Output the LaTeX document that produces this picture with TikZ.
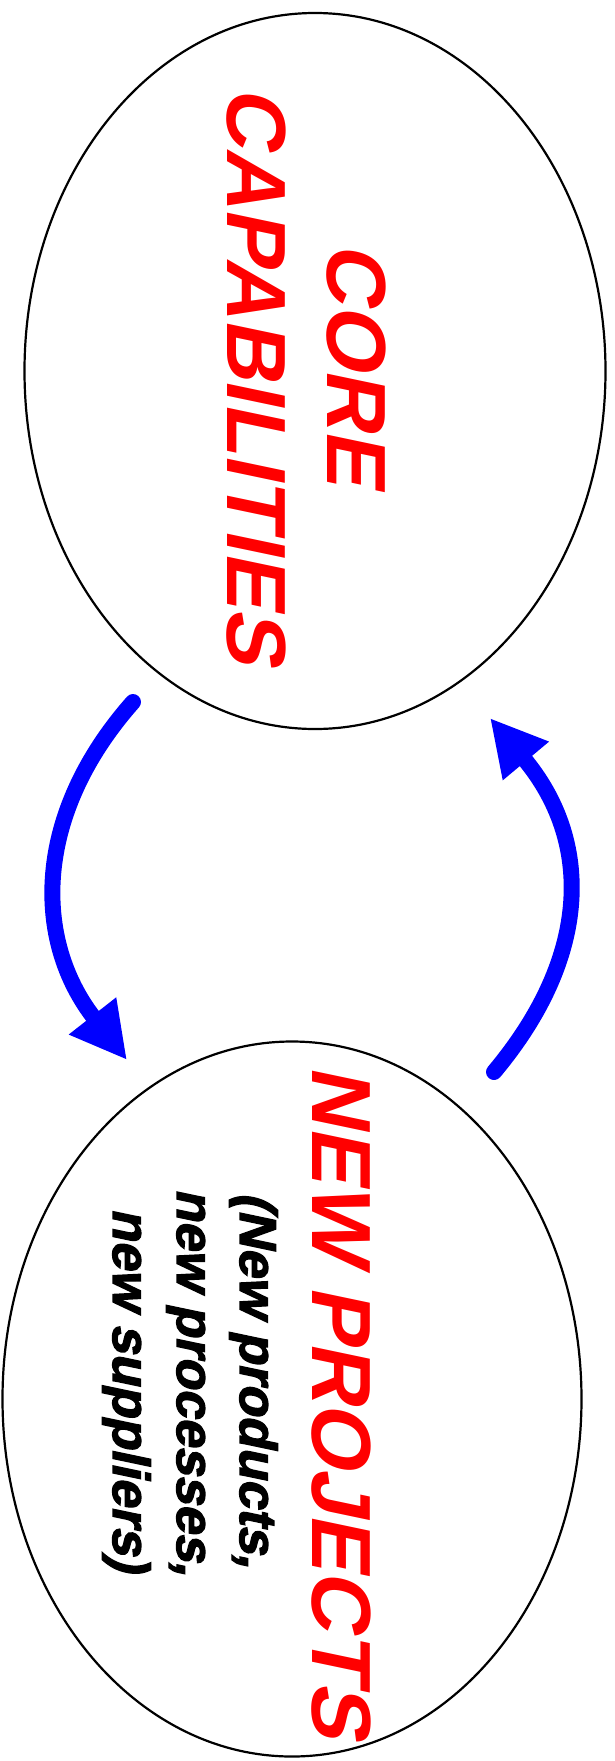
\documentclass[tikz,border=0pt]{standalone}
\usepackage{fontspec}
\setmainfont{Liberation Sans}
\newfontfamily\redfont[FakeSlant=0.21]{Liberation Sans}
\newfontfamily\blkfont[FakeSlant=0.21, BoldFeatures={FakeBold=2.5}]{Liberation Sans}
\usetikzlibrary{shapes.geometric,arrows.meta}
\tikzset{
  bubble/.style={draw=black, line width=2.2pt, ellipse, inner sep=0pt},
  redtxt/.style={rotate=-90, anchor=base, inner sep=0pt, text=red,
    font=\redfont\bfseries\fontsize{84}{84}\selectfont},
  blktxt/.style={rotate=-90, anchor=base, inner sep=0pt, text=black,
    font=\blkfont\bfseries\fontsize{52}{52}\selectfont},
  flow/.style={draw=blue, line width=16pt, line cap=round,
    -{Triangle[length=56pt,width=56pt]}}
}
\begin{document}
\begin{tikzpicture}[x=1pt,y=-1pt]
\useasboundingbox (0,0) rectangle (615,1761);
\node[bubble, minimum width=581pt, minimum height=716pt] (core) at (315,371) {};
\node[bubble, minimum width=579pt, minimum height=715pt] (proj) at (292,1399) {};
\node[redtxt] (t1) at (327,364) {CORE};
\node[redtxt] (t2) at (227,375) {CAPABILITIES};
\node[redtxt] (t3) at (312,1402) {NEW PROJECTS};
\node[blktxt] (t4) at (240,1380) {(New products,};
\node[blktxt] (t5) at (177,1382) {new processes,};
\node[blktxt] (t6) at (113,1390) {new suppliers)};
\coordinate (a1s) at (133,702);
\coordinate (a1e) at (127,1060);
\coordinate (a2s) at (494,1072);
\coordinate (a2e) at (490,718);
\draw[flow] (a1s) .. controls (33,815) and (33,940) .. (a1e);
\draw[flow] (a2s) .. controls (592,955) and (592,840) .. (a2e);
\end{tikzpicture}
\end{document}
